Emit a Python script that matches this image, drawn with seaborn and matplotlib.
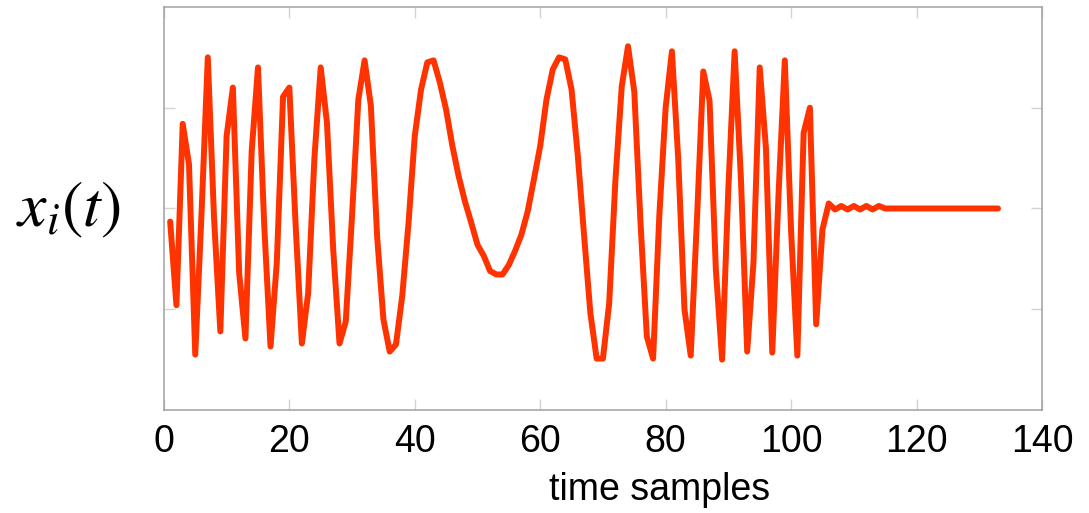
import numpy as np
import pandas as pd
import matplotlib
matplotlib.use("Agg")
import matplotlib.pyplot as plt
import seaborn as sns


# Set style, then fonts (set_theme resets font.family)
sns.set_theme(style="white")
plt.rcParams['font.family'] = ['Liberation Sans', 'DejaVu Sans']
plt.rcParams['mathtext.fontset'] = 'stix'
plt.rcParams['text.color'] = 'black'
plt.rcParams['axes.labelcolor'] = 'black'

# Signal values, one per time sample
signal = [
    -0.13, -0.96, 0.84, 0.44, -1.45, -0.05, 1.50, -0.10, -1.22, 0.72,
    1.20, -0.64, -1.29, 0.57, 1.40, -0.17, -1.37, -0.54, 1.11, 1.20,
    -0.16, -1.34, -0.84, 0.50, 1.40, 0.85, -0.41, -1.34, -1.12, -0.07,
    1.08, 1.47, 1.02, -0.28, -1.10, -1.42, -1.35, -0.87, -0.15, 0.72,
    1.18, 1.45, 1.47, 1.25, 0.98, 0.62, 0.32, 0.07, -0.14, -0.36,
    -0.47, -0.62, -0.655, -0.655, -0.56, -0.42, -0.26, -0.03, 0.29, 0.62,
    1.08, 1.38, 1.50, 1.48, 1.18, 0.52, -0.27, -1.04, -1.49, -1.49,
    -0.94, 0.29, 1.21, 1.61, 1.16, -0.15, -1.27, -1.49, -0.06, 1.00,
    1.56, 0.50, -1.00, -1.46, -0.10, 1.36, 1.07, -0.60, -1.50, 0.20,
    1.56, 0.30, -1.42, -0.54, 1.40, 0.59, -1.43, 0.14, 1.47, -0.22,
    -1.46, 0.75, 1.00, -1.15, -0.21, 0.05, -0.01, 0.025, -0.01, 0.025,
    -0.01, 0.025, -0.01, 0.025, 0.0, 0.0, 0.0, 0.0, 0.0, 0.0,
    0.0, 0.0, 0.0, 0.0, 0.0, 0.0, 0.0, 0.0, 0.0, 0.0,
    0.0, 0.0, 0.0,
]
samples = np.arange(1, len(signal) + 1)

x_ticks = [0, 20, 40, 60, 80, 100, 120, 140]
y_ticks = [-1, 0, 1]

df = pd.DataFrame({'t': samples, 'x': signal})

fig = plt.figure(figsize=(10.89, 5.13), dpi=100)
ax = fig.add_axes([0.1505, 0.2008, 0.8063, 0.7856])

# Draw the signal
sns.lineplot(data=df, x='t', y='x', ax=ax, color='#ff3300', linewidth=4.3)

ax.set_xlim(0, 140)
ax.set_ylim(-2, 2)
ax.set_xticks(x_ticks)
ax.set_yticks(y_ticks)
ax.set_yticklabels([])
ax.tick_params(axis='both', direction='in', length=8, width=1, color='#d4d4d4',
               top=True, right=True, left=True, bottom=True)
ax.tick_params(axis='x', labelsize=27, pad=10, labelcolor='black')

for spine in ax.spines.values():
    spine.set_color('#a0a0a0')
    spine.set_linewidth(1.1)

ax.set_xlabel('time samples', fontsize=27, color='black')
ax.xaxis.set_label_coords(0.565, -0.155)
ax.set_ylabel('')

# Italic signal label on the left
fig.text(0.015, 0.59, r'$x_i(t)$', fontsize=46, ha='left', va='center',
         color='black')

fig.savefig('out.png', dpi=100)
